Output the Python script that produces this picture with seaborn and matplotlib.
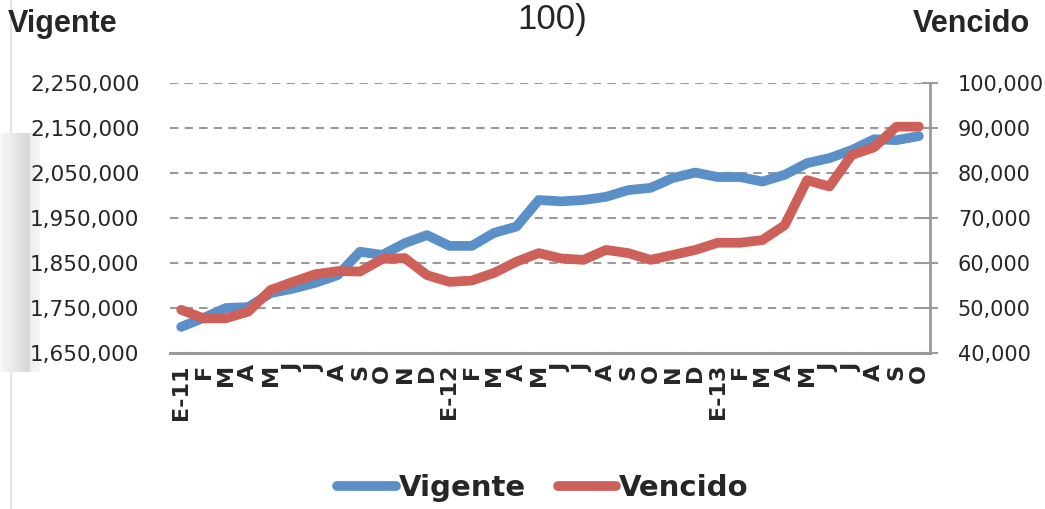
import matplotlib

matplotlib.use("Agg")
import matplotlib.pyplot as plt
import numpy as np
import pandas as pd
import seaborn as sns
from matplotlib.ticker import FuncFormatter

COLOR_VIGENTE = "#5B8FC7"
COLOR_VENCIDO = "#CD615A"
COLOR_GRID = "#9A9A9A"

months = ["E-11", "F", "M", "A", "M", "J", "J", "A", "S", "O", "N", "D",
          "E-12", "F", "M", "A", "M", "J", "J", "A", "S", "O", "N", "D",
          "E-13", "F", "M", "A", "M", "J", "J", "A", "S", "O"]

vigente = [1708000, 1728000, 1750000, 1752000, 1783000, 1793000, 1806000, 1823000,
           1875000, 1868000, 1894000, 1912000, 1888000, 1888000, 1917000, 1931000,
           1990000, 1987000, 1990000, 1997000, 2012000, 2017000, 2039000, 2051000,
           2041000, 2041000, 2031000, 2046000, 2072000, 2083000, 2101000, 2125000,
           2123000, 2132000]

vencido = [49600, 47700, 47700, 49200, 54000, 55800, 57500, 58200,
           58100, 60900, 61100, 57300, 55800, 56100, 57800, 60300,
           62200, 61000, 60700, 62900, 62200, 60700, 61800, 62900,
           64500, 64500, 65100, 68400, 78400, 77000, 84000, 85700,
           90300, 90300]

df = pd.DataFrame({"idx": np.arange(len(months)), "Vigente": vigente, "Vencido": vencido})

sns.set_theme(style="white")
plt.rcParams.update({"font.family": ["DejaVu Sans"]})

fig = plt.figure(figsize=(10.45, 5.09), dpi=100)

# screenshot edge on the left, kept behind the chart
edge = fig.add_axes([0, 1 - 372 / 509, 40 / 1045, 239 / 509], zorder=-5)
grad = np.concatenate([np.linspace(0.97, 0.84, 30), np.linspace(0.93, 0.96, 10)])
edge.imshow(np.tile(grad, (10, 1)), cmap="gray", vmin=0, vmax=1, aspect="auto")
edge.axis("off")
fig.add_artist(plt.Line2D([11 / 1045] * 2, [1, 1 - 133 / 509], color="#E4E4E4", linewidth=1.5, zorder=-5))
fig.add_artist(plt.Line2D([11 / 1045] * 2, [1 - 372 / 509, 0], color="#E4E4E4", linewidth=1.5, zorder=-5))

ax = fig.add_axes([170 / 1045, 1 - 353 / 509, 760 / 1045, 270 / 509])
ax.patch.set_alpha(0)
ax2 = ax.twinx()

sns.lineplot(data=df, x="idx", y="Vigente", ax=ax, color=COLOR_VIGENTE, linewidth=7,
             solid_capstyle="round", solid_joinstyle="round", label="Vigente", legend=False)
sns.lineplot(data=df, x="idx", y="Vencido", ax=ax2, color=COLOR_VENCIDO, linewidth=7,
             solid_capstyle="round", solid_joinstyle="round", label="Vencido", legend=False)

ax.set_xlim(-0.5, len(months) - 0.5)
ax.set_ylim(1650000, 2250000)
ax2.set_ylim(40000, 100000)
ax.set_yticks(np.arange(1650000, 2250001, 100000))
ax2.set_yticks(np.arange(40000, 100001, 10000))
fmt = FuncFormatter(lambda v, p: f"{int(v):,}")
ax.yaxis.set_major_formatter(fmt)
ax2.yaxis.set_major_formatter(fmt)

ax.yaxis.grid(True, color=COLOR_GRID, linestyle=(0, (4, 3)), linewidth=1.5)
ax.set_axisbelow(True)

ax.set_xticks(df["idx"])
ax.set_xticklabels(months, rotation=90, fontsize=16, fontweight="bold")
ax.tick_params(axis="x", length=0, pad=8)
ax.tick_params(axis="y", length=0, labelsize=15.5, pad=22)
ax2.tick_params(axis="y", direction="inout", length=12, width=1.5, color=COLOR_GRID,
                labelsize=15, pad=14)
ax.set_xlabel("")
ax.set_ylabel("")
ax2.set_ylabel("")

for a in (ax, ax2):
    for side in ("top", "left", "right"):
        a.spines[side].set_visible(False)
    a.spines["bottom"].set_color(COLOR_GRID)
    a.spines["bottom"].set_linewidth(2)
ax2.spines["right"].set_visible(True)
ax2.spines["right"].set_color(COLOR_GRID)
ax2.spines["right"].set_linewidth(2)

fig.text(8 / 1045, 1 - 32 / 509, "Vigente", fontsize=22, fontweight="bold",
         family=["Liberation Sans", "DejaVu Sans"])
fig.text(1030 / 1045, 1 - 32 / 509, "Vencido", fontsize=22, fontweight="bold", ha="right",
         family=["Liberation Sans", "DejaVu Sans"])
fig.text(552 / 1045, 1 - 29 / 509, "100)", fontsize=25, ha="center", va="baseline",
         family=["Liberation Sans", "DejaVu Sans"])

handles = ax.get_lines()[:1] + ax2.get_lines()[:1]
fig.legend(handles, ["Vigente", "Vencido"], loc="center", bbox_to_anchor=(543 / 1045, 1 - 488 / 509),
           ncol=2, frameon=False, handlelength=2.0, handletextpad=0.1, columnspacing=1.1,
           prop={"size": 21, "weight": "bold"})

fig.savefig("out.png", dpi=100)
